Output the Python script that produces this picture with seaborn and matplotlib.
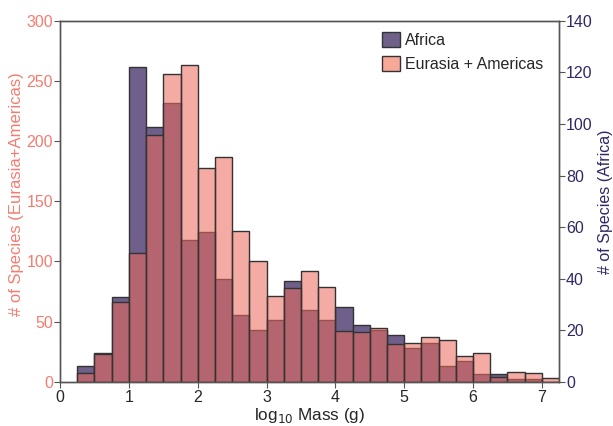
import numpy as np
import pandas as pd
import matplotlib
matplotlib.use("Agg")
import matplotlib.pyplot as plt
from matplotlib.patches import Patch
import seaborn as sns

# log10 mass bins (width 0.25) and species counts
bin_start, bin_stop, bin_width = 0.25, 7.25, 0.25
eurasia_americas = [7, 23, 66, 107, 205, 256, 263, 178, 187, 125,
                    100, 71, 78, 92, 79, 42, 41, 45, 31, 32,
                    37, 35, 21, 24, 4, 8, 7, 3]
africa = [6, 11, 33, 122, 99, 108, 55, 58, 40, 26,
          20, 24, 39, 28, 24, 29, 22, 20, 18, 13,
          15, 6, 8, 3, 3, 1, 1, 0]

left_ticks = [0, 50, 100, 150, 200, 250, 300]
right_ticks = [0, 20, 40, 60, 80, 100, 120, 140]
x_ticks = [0, 1, 2, 3, 4, 5, 6, 7]

centers = bin_start + bin_width * (np.arange(len(africa)) + 0.5)
df = pd.DataFrame({"mass": centers, "eurasia": eurasia_americas, "africa": africa})

salmon = "#ec6a5c"
salmon_text = "#f47c70"
purple = "#6e5f8b"
navy = "#2f2766"
edge = "#333333"

sns.set_style("ticks")
plt.rcParams["font.family"] = ["Liberation Sans", "DejaVu Sans"]

fig = plt.figure(figsize=(6.13, 4.26), dpi=100)
ax = fig.add_axes([0.098, 0.104, 0.814, 0.847])
ax2 = ax.twinx()

hist_kws = dict(binwidth=bin_width, binrange=(bin_start, bin_stop),
                edgecolor=edge, linewidth=1.0)
# Africa drawn underneath, Eurasia+Americas on top with transparency
sns.histplot(data=df, x="mass", weights="africa", ax=ax2,
             color=purple, alpha=1.0, **hist_kws)
sns.histplot(data=df, x="mass", weights="eurasia", ax=ax,
             color=salmon, alpha=0.56, **hist_kws)
ax.set_zorder(ax2.get_zorder() + 1)
ax.patch.set_visible(False)

ax.set_xlim(0, 7.25)
ax.set_ylim(0, 300)
ax2.set_ylim(0, 140)
ax.set_xticks(x_ticks)
ax.set_yticks(left_ticks)
ax2.set_yticks(right_ticks)

ax.set_xlabel("log$_{10}$ Mass (g)", fontsize=12.3, labelpad=1)
ax.set_ylabel("# of Species (Eurasia+Americas)", fontsize=12, color=salmon_text, labelpad=1)
ax.yaxis.set_label_coords(-0.072, 0.52)
ax2.set_ylabel("# of Species (Africa)", fontsize=11.5, color=navy, labelpad=4)

ax.tick_params(axis="x", labelsize=11.5, length=4, color="#555555", pad=2)
ax.tick_params(axis="y", labelsize=11.5, length=4, color="#555555", labelcolor=salmon_text, pad=1)
ax2.tick_params(axis="y", labelsize=11.5, length=4, color="#555555", labelcolor=navy, pad=1)

for a in (ax, ax2):
    for s in a.spines.values():
        s.set_visible(True)
        s.set_color("#555555")
        s.set_linewidth(1.0)

handles = [Patch(facecolor=purple, edgecolor=edge, label="Africa"),
           Patch(facecolor="#f7a898", edgecolor=edge, label="Eurasia + Americas")]
ax.legend(handles=handles, loc="upper right", frameon=False, fontsize=11.5,
          handlelength=1.1, handleheight=1.1, handletextpad=0.3,
          labelspacing=0.5, borderaxespad=0.3, bbox_to_anchor=(0.99, 1.0))

fig.savefig("out.png", dpi=100)
